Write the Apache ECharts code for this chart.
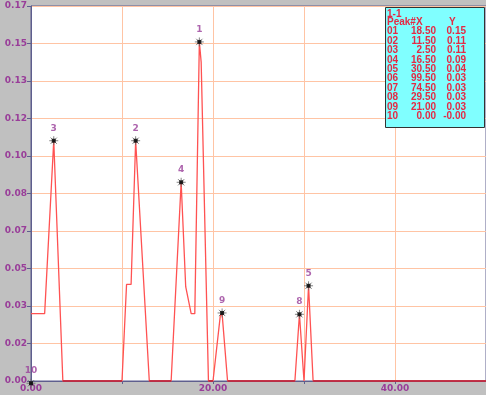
<!DOCTYPE html>
<html><head><meta charset="utf-8">
<script src="https://cdn.jsdelivr.net/npm/echarts@6/dist/echarts.min.js"></script>
<style>html,body{margin:0;padding:0;background:#c0c0c0}#c{width:486px;height:395px}</style>
</head><body><div id="c"></div>
<script>
// trace samples (x, y)
const traceX = [0, 1.5, 2.5, 3.5, 10, 10.5, 11, 11.5, 13, 15.4, 16.5, 17, 17.6, 18, 18.5, 18.7, 19.5, 20, 20.8, 21, 21.6, 29, 29.5, 30, 30.5, 31, 50];
const traceY = [0.030, 0.030, 0.107, 0, 0, 0.043, 0.043, 0.107, 0, 0, 0.0885, 0.042, 0.030, 0.030, 0.151, 0.142, 0, 0, 0.029, 0.030, 0, 0, 0.0297, 0, 0.0424, 0, 0];

// peak table
const peakIds = ['01', '02', '03', '04', '05', '06', '07', '08', '09', '10'];
const peakLabels = ['1', '2', '3', '4', '5', '6', '7', '8', '9', '10'];
const peakX = [18.5, 11.5, 2.5, 16.5, 30.5, 99.5, 74.5, 29.5, 21.0, 0.0];
const peakY = [0.151, 0.107, 0.107, 0.0885, 0.0424, 0.030, 0.030, 0.0297, 0.0303, -0.001];
const tableTitle = '1-1';

// axis tick labels
const yTickLabels = ['0.00', '0.02', '0.03', '0.05', '0.07', '0.08', '0.10', '0.12', '0.13', '0.15', '0.17'];
const xTickLabels = ['0.00', '', '20.00', '', '40.00', ''];

const Y_INT = 0.0167, X_INT = 10;
const purple = '#993d99';
const axisCol = '#5e5e8e';
const gridCol = '#ffc4a4';

const traceData = traceX.map((x, i) => [x, traceY[i]]);
const peakData = peakX.map((x, i) => ({ value: [x, peakY[i]], label: { formatter: peakLabels[i] } }));
const peakDots = peakX.map((x, i) => [x, peakY[i]]);
const zeroData = traceX.map((x, i) => [x, traceY[i] === 0 ? 0 : null]);

// table graphic
const tFont = 'bold 10px "Liberation Sans", Arial, sans-serif';
const tCol = '#e42a44';
const tbl = [{ type: 'rect', z: 100, shape: { x: 385.5, y: 7.5, width: 99, height: 120 }, style: { fill: '#80ffff', stroke: '#333', lineWidth: 1 } }];
function txt(s, x, y, align) {
  tbl.push({ type: 'text', z: 101, style: { text: s, x: x, y: y, font: tFont, fill: tCol, textAlign: align || 'left', textVerticalAlign: 'middle' } });
}
txt(tableTitle, 387, 14);
txt('Peak#X', 387, 22.5);
txt('Y', 449, 22.5);
peakIds.forEach((id, i) => {
  const yy = 31.7 + i * 9.4;
  txt(id, 387, yy);
  txt(peakX[i].toFixed(2), 436, yy, 'right');
  txt(peakY[i].toFixed(2), 466, yy, 'right');
});

const chart = echarts.init(document.getElementById('c'), null, { renderer: 'canvas' });
chart.setOption({
  backgroundColor: '#c0c0c0',
  animation: false,
  grid: { left: 31, top: 6, right: -1, bottom: 14, show: true, backgroundColor: '#ffffff', borderColor: axisCol, borderWidth: 1 },
  xAxis: {
    type: 'value', min: 0, max: 50, interval: X_INT,
    axisLine: { show: true, onZero: false, lineStyle: { color: axisCol, width: 1 } },
    axisTick: { show: true, length: 3, lineStyle: { color: axisCol } },
    axisLabel: { color: purple, fontFamily: 'DejaVu Sans', fontWeight: 'bold', fontSize: 9, margin: 3, showMaxLabel: false,
      formatter: v => xTickLabels[Math.round(v / X_INT)] || '' },
    splitLine: { show: true, lineStyle: { color: gridCol, width: 1 } }
  },
  yAxis: {
    type: 'value', min: 0, max: 0.167, interval: Y_INT,
    axisLine: { show: true, onZero: false, lineStyle: { color: axisCol, width: 1 } },
    axisTick: { show: true, length: 4, lineStyle: { color: axisCol } },
    axisLabel: { color: purple, fontFamily: 'DejaVu Sans', fontWeight: 'bold', fontSize: 9, margin: 4,
      formatter: v => yTickLabels[Math.round(v / Y_INT)] },
    splitLine: { show: true, lineStyle: { color: gridCol, width: 1 } }
  },
  series: [
    { type: 'line', data: traceData, symbol: 'none', lineStyle: { color: '#ff5252', width: 1.3 }, z: 3 },
    { type: 'line', data: zeroData, symbol: 'none', connectNulls: false, clip: false, lineStyle: { color: '#b8203a', width: 1.5 }, z: 3 },
    { type: 'scatter', data: peakData, clip: false, z: 4,
      symbol: 'path://M5,0L5,10M0,5L10,5M1.5,1.5L8.5,8.5M1.5,8.5L8.5,1.5', symbolSize: 9,
      itemStyle: { color: 'none', borderColor: '#666', borderWidth: 1 },
      label: { show: true, position: 'top', distance: 1, color: purple, fontFamily: 'DejaVu Sans', fontWeight: 'bold', fontSize: 9 } },
    { type: 'scatter', data: peakDots, clip: false, z: 5, symbol: 'rect', symbolSize: 4, itemStyle: { color: '#000' } }
  ],
  graphic: tbl
});
</script>
</body></html>
